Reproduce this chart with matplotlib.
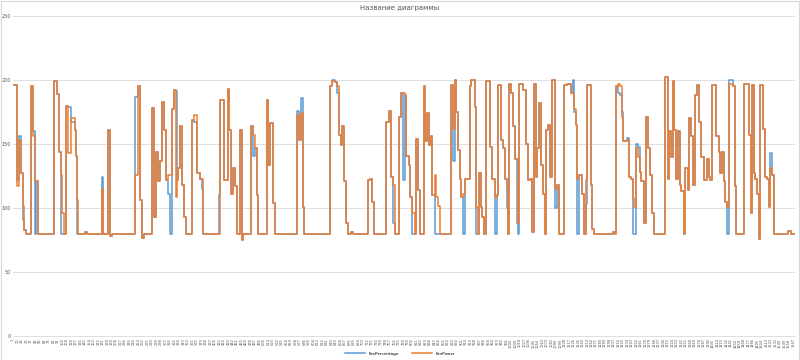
import numpy as np
import matplotlib.pyplot as plt

# step data: category where each step starts, value of each series from there on
step_start = [1, 7, 8, 12, 17, 20, 23, 27, 37, 41, 45, 47, 51, 83, 90, 93, 97, 100, 104,
              107, 111, 118, 125, 127, 129, 132, 146, 150, 179, 182, 192, 195, 200, 245,
              252, 256, 260, 263, 280, 284, 288, 292, 295, 299, 303, 307, 312, 315, 320,
              323, 327, 330, 333, 337, 341, 345, 348, 361, 365, 370, 377, 380, 383, 415,
              417, 425, 432, 435, 439, 443, 447, 450, 457, 460, 463, 479, 483, 487, 490,
              493, 510, 513, 517, 523, 527, 570, 575, 578, 582, 584, 637, 641, 647, 652,
              655, 659, 661, 665, 670, 673, 680, 683, 713, 717, 721, 725, 750, 755, 760,
              763, 767, 775, 780, 783, 787, 790, 795, 798, 802, 807, 810, 813, 817, 825,
              828, 832, 835, 839, 842, 847, 850, 853, 857, 879, 883, 887, 890, 893, 897,
              900, 903, 907, 917, 920, 927, 930, 933, 937, 940, 943, 947, 950, 959, 963,
              968, 972, 975, 981, 985, 989, 992, 995, 997, 1000, 1004, 1008, 1012, 1015,
              1017, 1025, 1031, 1035, 1039, 1043, 1047, 1050, 1053, 1057, 1060, 1065,
              1069, 1071, 1075, 1079, 1083, 1088, 1092, 1097, 1107, 1113, 1120, 1125,
              1127, 1130, 1133, 1137, 1143, 1147, 1150, 1153, 1160, 1163, 1167, 1204,
              1208, 1210, 1215, 1219, 1222, 1225, 1233, 1237, 1241, 1245, 1248, 1252,
              1255, 1259, 1262, 1267, 1268, 1271, 1275, 1279, 1283, 1287, 1310, 1315,
              1318, 1321, 1325, 1328, 1332, 1335, 1339, 1342, 1347, 1350, 1355, 1358,
              1362, 1365, 1370, 1373, 1377, 1381, 1387, 1393, 1397, 1400, 1403, 1411,
              1417, 1420, 1423, 1427, 1430, 1433, 1437, 1445, 1449, 1452, 1467, 1477,
              1481, 1483, 1487, 1490, 1493, 1497, 1500, 1505, 1509, 1513, 1517, 1520,
              1523, 1527, 1556, 1562, 1570]

fan_trans = [196, 196, 117, 153, 127, 102, 83, 80, 195, 156, 121, 121, 80, 199, 189, 144, 126, 96, 80,
             180, 143, 170, 161, 141, 106, 80, 81, 80, 115, 80, 161, 78, 80, 126,
             195, 106, 77, 80, 178, 93, 144, 121, 137, 183, 161, 122, 126, 126, 177,
             192, 109, 122, 131, 164, 118, 93, 80, 169, 173, 127, 123, 123, 80, 80,
             184, 122, 193, 161, 111, 131, 117, 80, 161, 75, 80, 164, 157, 147, 110,
             80, 184, 134, 166, 104, 80, 173, 153, 174, 101, 80, 195, 199, 198, 195,
             157, 149, 164, 121, 88, 80, 81, 80, 122, 123, 105, 80, 167, 176, 124,
             118, 80, 171, 190, 190, 188, 141, 134, 109, 96, 80, 154, 114, 80, 195,
             152, 174, 149, 156, 110, 126, 109, 102, 80, 196, 162, 200, 175, 145, 123,
             109, 111, 123, 195, 200, 179, 101, 80, 127, 101, 93, 80, 199, 148, 123,
             109, 110, 196, 153, 147, 123, 117, 80, 197, 190, 164, 138, 138, 88,
             197, 192, 150, 122, 123, 81, 197, 124, 147, 182, 134, 111,
             80, 161, 165, 124, 200, 115, 118, 80, 196, 197, 190, 190,
             177, 165, 123, 126, 111, 80, 122, 196, 118, 84, 80, 81,
             80, 195, 197, 195, 171, 152, 153, 124, 123, 108, 101, 147,
             140, 128, 121, 118, 88, 171, 147, 126, 96, 80, 202, 123,
             160, 140, 199, 161, 123, 160, 118, 113, 80, 131, 114, 170,
             156, 118, 188, 196, 167, 140, 122, 138, 124, 122, 196, 156,
             144, 127, 144, 121, 105, 101, 197, 195, 117, 80, 197, 157,
             96, 196, 127, 123, 111, 76, 196, 162, 124, 123, 101, 131,
             126, 80, 82, 80, 80]

fan_percentage = [196, 196, 122, 156, 127, 91, 83, 80, 195, 160, 80, 121, 80, 199, 189, 144, 80, 80, 80,
                  180, 179, 167, 161, 141, 80, 80, 81, 80, 124, 80, 161, 78, 80, 187,
                  195, 106, 77, 80, 178, 93, 144, 121, 137, 183, 161, 122, 111, 80, 177,
                  192, 191, 122, 131, 164, 118, 93, 80, 169, 167, 127, 123, 115, 80, 110,
                  184, 122, 193, 161, 111, 131, 117, 80, 161, 75, 80, 164, 141, 147, 110,
                  80, 184, 134, 166, 104, 80, 176, 153, 186, 101, 80, 195, 200, 198, 190,
                  157, 149, 164, 121, 88, 80, 81, 80, 122, 123, 105, 80, 167, 176, 124,
                  88, 80, 171, 190, 122, 188, 141, 134, 109, 80, 80, 154, 114, 80, 195,
                  152, 174, 149, 156, 110, 80, 80, 80, 80, 196, 137, 200, 175, 145, 123,
                  109, 80, 123, 195, 200, 179, 80, 80, 127, 101, 93, 80, 199, 148, 123,
                  80, 110, 196, 153, 147, 123, 100, 80, 197, 190, 164, 138, 88, 80,
                  197, 192, 150, 122, 123, 81, 197, 124, 147, 182, 134, 111,
                  80, 161, 165, 124, 200, 100, 118, 80, 196, 197, 190, 200,
                  175, 165, 80, 126, 111, 80, 103, 196, 118, 84, 80, 81,
                  80, 195, 190, 188, 175, 152, 155, 124, 123, 80, 80, 150,
                  148, 128, 121, 118, 88, 171, 147, 126, 96, 80, 202, 123,
                  160, 140, 199, 161, 123, 160, 118, 113, 80, 131, 114, 170,
                  156, 118, 188, 196, 167, 140, 122, 138, 124, 122, 196, 156,
                  144, 127, 144, 121, 105, 80, 200, 195, 117, 80, 197, 157,
                  96, 196, 127, 123, 111, 76, 196, 162, 124, 123, 101, 143,
                  126, 80, 82, 80, 80]

n_categories = 1570
category_labels = [str(i) for i in range(1, n_categories + 1)]
label_every = 9

y_ticks = [0, 50, 100, 150, 200, 250]

blue = "#5B9BD5"
orange = "#ED7D31"
grey = "#595959"

fig = plt.figure(figsize=(8, 3.6), dpi=100)
ax = fig.add_axes([0.016, 0.066, 0.978, 0.89])

ax.plot(step_start, fan_percentage, drawstyle="steps-post", color=blue, lw=1.1,
        label="FanPercentage")
ax.plot(step_start, fan_trans, drawstyle="steps-post", color=orange, lw=1.1,
        label="FanPower")

ax.set_xlim(0.5, n_categories + 0.5)
ax.set_ylim(0, 250)
ax.set_yticks(y_ticks)
ax.set_yticklabels([str(t) for t in y_ticks], fontsize=3.5, color=grey)
ticks = np.arange(1, n_categories + 1, label_every)
ax.set_xticks(ticks)
ax.set_xticklabels([category_labels[t - 1] for t in ticks], rotation=90,
                   fontsize=2.6, color=grey)
ax.tick_params(length=0, pad=1.5)
ax.grid(axis="y", color="#D9D9D9", lw=0.6)
ax.set_axisbelow(True)
for s in ["left", "right", "top"]:
    ax.spines[s].set_visible(False)
ax.spines["bottom"].set_color("#D9D9D9")
ax.spines["bottom"].set_linewidth(0.6)

fig.text(0.5, 0.978, "Название диаграммы", ha="center", va="center",
         fontsize=5, color=grey)
fig.legend(loc="center", bbox_to_anchor=(0.5, 0.017), ncol=2, frameon=False,
           fontsize=3, handlelength=5, columnspacing=3)

fig.patches.append(plt.Rectangle((0.001, 0.001), 0.998, 0.997, transform=fig.transFigure,
                                 fill=False, edgecolor="#D9D9D9", lw=0.8))

plt.savefig("out.png", dpi=100)
